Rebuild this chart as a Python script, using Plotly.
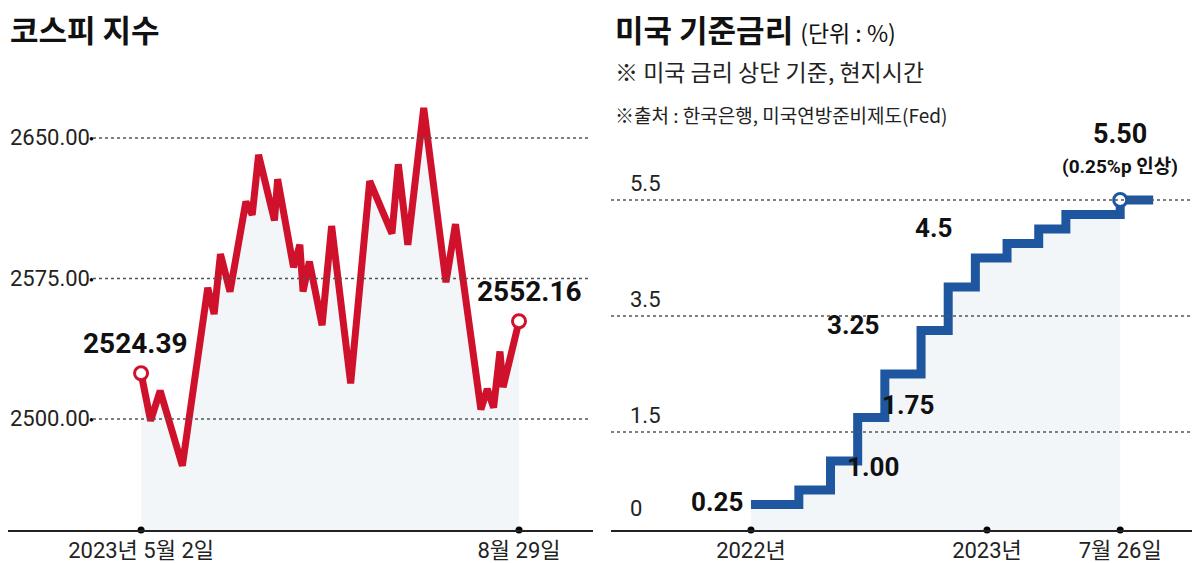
import pandas as pd
import plotly.graph_objects as go

# 코스피
kospi_days = [0, 3, 6, 13, 21, 23, 25, 28, 33, 35, 37, 42, 43, 48, 50, 51, 53, 57, 60,
              66, 72, 79, 81, 84, 89, 96, 99, 107, 109, 111, 113, 114, 119]
kospi_vals = [2524.39, 2499, 2515, 2475, 2570, 2556, 2588, 2568, 2616, 2609, 2641, 2606,
              2628, 2581, 2593, 2568, 2584, 2550, 2603, 2519, 2627, 2599, 2636, 2593, 2666,
              2573, 2604, 2505, 2516, 2506, 2536, 2517, 2552.16]
kospi_start = pd.Timestamp("2023-05-02")
kospi_dates = [kospi_start + pd.Timedelta(days=d) for d in kospi_days]
kospi_ticks = ["2023-05-02", "2023-08-29"]
kospi_ticktext = ["2023년 5월 2일", "8월 29일"]
kospi_grid = [2500, 2575, 2650]

# 미국 기준금리 (상단)
fed_dates = ["2022-01-01", "2022-03-16", "2022-05-04", "2022-06-15", "2022-07-27",
             "2022-09-21", "2022-11-02", "2022-12-14", "2023-02-01", "2023-03-22",
             "2023-05-03", "2023-07-26", "2023-09-15"]
fed_rates = [0.25, 0.5, 1.0, 1.75, 2.5, 3.25, 4.0, 4.5, 4.75, 5.0, 5.25, 5.5, 5.5]
fed_ticks = ["2022-01-01", "2023-01-01", "2023-07-26"]
fed_ticktext = ["2022년", "2023년", "7월 26일"]
fed_grid = [1.5, 3.5, 5.5]
fed_gridtext = ["1.5", "3.5", "5.5"]
fed_labels = [("2022-01-01", 0.25, "0.25"), ("2022-05-04", 1.0, "1.00"),
              ("2022-06-15", 1.75, "1.75"), ("2022-07-27", 3.25, "3.25"),
              ("2022-11-02", 4.5, "4.5")]

RED = "#d0112b"
BLUE = "#1f56a0"
FILL = "rgba(240,244,248,0.85)"
FONT = "Liberation Sans Narrow, Roboto, Noto Sans CJK KR"
KFONT = "Noto Sans CJK KR"

K_MIN, K_MAX = 2440.7, 2719.4
F_MIN, F_MAX = -0.19, 8.81

fig = go.Figure()

# left: kospi
fig.add_trace(go.Scatter(x=kospi_dates, y=kospi_vals, mode="lines", fill="tozeroy",
                         fillcolor=FILL, line=dict(color=RED, width=7),
                         xaxis="x", yaxis="y", hoverinfo="skip"))
fig.add_trace(go.Scatter(x=[kospi_dates[0], kospi_dates[-1]], y=[kospi_vals[0], kospi_vals[-1]],
                         mode="markers", marker=dict(size=13, color="white", line=dict(color=RED, width=3)),
                         xaxis="x", yaxis="y"))
fig.add_trace(go.Scatter(x=pd.to_datetime(kospi_ticks), y=[K_MIN, K_MIN], mode="markers",
                         marker=dict(size=7, color="black"), cliponaxis=False, xaxis="x", yaxis="y"))

# right: fed
fed_x = pd.to_datetime(fed_dates)
cut = fed_dates.index("2023-07-26") + 1
fig.add_trace(go.Scatter(x=fed_x[:cut], y=[F_MIN] * cut, mode="lines", line=dict(width=0),
                         xaxis="x2", yaxis="y2", hoverinfo="skip"))
fig.add_trace(go.Scatter(x=fed_x[:cut], y=fed_rates[:cut], mode="lines", line=dict(width=0, shape="hv"),
                         fill="tonexty", fillcolor=FILL, xaxis="x2", yaxis="y2", hoverinfo="skip"))
fig.add_trace(go.Scatter(x=fed_x, y=fed_rates, mode="lines", line=dict(color=BLUE, width=9, shape="hv"),
                         xaxis="x2", yaxis="y2"))
fig.add_trace(go.Scatter(x=[pd.Timestamp("2023-07-26")], y=[5.5], mode="markers",
                         marker=dict(size=13, color="white", line=dict(color=BLUE, width=3)),
                         xaxis="x2", yaxis="y2"))
fig.add_trace(go.Scatter(x=pd.to_datetime(fed_ticks), y=[F_MIN] * 3, mode="markers",
                         marker=dict(size=7, color="black"), cliponaxis=False, xaxis="x2", yaxis="y2"))

shapes = []
annotations = []
for v in kospi_grid:
    shapes.append(dict(type="line", xref="paper", yref="y", x0=85 / 1200, x1=580 / 1200, y0=v, y1=v,
                       line=dict(color="#555", width=1.5, dash="dot")))
    annotations.append(dict(xref="paper", yref="y", x=83 / 1200, y=v, text="●", showarrow=False,
                            font=dict(size=8, color="black"), xanchor="center"))
    annotations.append(dict(xref="paper", yref="y", x=0, y=v, text=f"{v:.2f}", showarrow=False,
                            xanchor="left", font=dict(size=22, family=FONT, color="#222")))
for v, t in zip(fed_grid, fed_gridtext):
    shapes.append(dict(type="line", xref="paper", yref="y2", x0=603 / 1200, x1=1, y0=v, y1=v,
                       line=dict(color="#555", width=1.5, dash="dot")))
    annotations.append(dict(xref="paper", yref="y2", x=620 / 1200, y=v, text=t, showarrow=False,
                            yshift=16, xanchor="left", font=dict(size=22, family=FONT, color="#222")))
annotations.append(dict(xref="paper", yref="y2", x=620 / 1200, y=0, text="0", showarrow=False,
                        yshift=10, xanchor="left", font=dict(size=22, family=FONT, color="#222")))

annotations += [
    dict(xref="x", yref="y", x=kospi_dates[0], y=kospi_vals[0], text="<b>2524.39</b>", showarrow=False,
         yshift=30, xshift=-6, font=dict(size=28, family=FONT, color="#111")),
    dict(xref="x", yref="y", x=kospi_dates[-1], y=kospi_vals[-1], text="<b>2552.16</b>", showarrow=False,
         yshift=30, xshift=10, font=dict(size=28, family=FONT, color="#111")),
    dict(xref="x2", yref="y2", x="2023-07-26", y=5.5, text="<b>5.50</b>", showarrow=False,
         yshift=66, font=dict(size=27, family=FONT, color="#111")),
    dict(xref="x2", yref="y2", x="2023-07-26", y=5.5, text="<b>(0.25%p 인상)</b>", showarrow=False,
         yshift=33, font=dict(size=19, family=FONT, color="#111")),
]
fed_offsets = {"0.25": (-6, 2, "right"), "1.00": (14, -6, "left"), "1.75": (22, 12, "left"),
               "3.25": (-4, 5, "right"), "4.5": (6, 30, "right")}
for d, v, t in fed_labels:
    dx, dy, anc = fed_offsets[t]
    annotations.append(dict(xref="x2", yref="y2", x=d, y=v, text=f"<b>{t}</b>", showarrow=False,
                            xanchor=anc, xshift=dx, yshift=dy,
                            font=dict(size=26, family=FONT, color="#111")))

def py(p):
    return 1 - p / 522

annotations += [
    dict(xref="paper", yref="paper", x=0, y=py(-4), text="<b>코스피 지수</b>", showarrow=False,
         xanchor="left", font=dict(size=31, family=KFONT, color="#111")),
    dict(xref="paper", yref="paper", x=605 / 1200, y=py(-4),
         text="<b>미국 기준금리</b> <span style='font-size:23px'>(단위 : %)</span>", showarrow=False,
         xanchor="left", font=dict(size=31, family=KFONT, color="#111")),
    dict(xref="paper", yref="paper", x=605 / 1200, y=py(44), text="※ 미국 금리 상단 기준, 현지시간",
         showarrow=False, xanchor="left", font=dict(size=23, family=KFONT, color="#222")),
    dict(xref="paper", yref="paper", x=605 / 1200, y=py(91), text="※출처 : 한국은행, 미국연방준비제도(Fed)",
         showarrow=False, xanchor="left", font=dict(size=19, family=KFONT, color="#222")),
]

fig.update_layout(
    width=1200, height=563, margin=dict(l=0, r=0, t=0, b=41),
    paper_bgcolor="white", plot_bgcolor="white", showlegend=False,
    shapes=shapes, annotations=annotations,
    xaxis=dict(domain=[0, 585 / 1200], type="date",
               range=[kospi_start - pd.Timedelta(days=41.9), pd.Timestamp("2023-08-29") + pd.Timedelta(days=23.3)],
               tickvals=pd.to_datetime(kospi_ticks), ticktext=kospi_ticktext, ticks="",
               showgrid=False, zeroline=False, showline=True, linecolor="#222", linewidth=2,
               tickfont=dict(size=22, family=FONT, color="#222")),
    yaxis=dict(domain=[0, 1], range=[K_MIN, K_MAX], showgrid=False, zeroline=False,
               showticklabels=False),
    xaxis2=dict(domain=[603 / 1200, 1], type="date", anchor="y2",
                range=[pd.Timestamp("2022-01-01") - pd.Timedelta(days=216.5),
                       pd.Timestamp("2023-01-01") + pd.Timedelta(days=341.8)],
                tickvals=pd.to_datetime(fed_ticks), ticktext=fed_ticktext, ticks="",
                showgrid=False, zeroline=False, showline=True, linecolor="#222", linewidth=2,
                tickfont=dict(size=22, family=FONT, color="#222")),
    yaxis2=dict(domain=[0, 1], anchor="x2", range=[F_MIN, F_MAX], showgrid=False, zeroline=False,
                showticklabels=False),
)

fig.write_html("out.html")
